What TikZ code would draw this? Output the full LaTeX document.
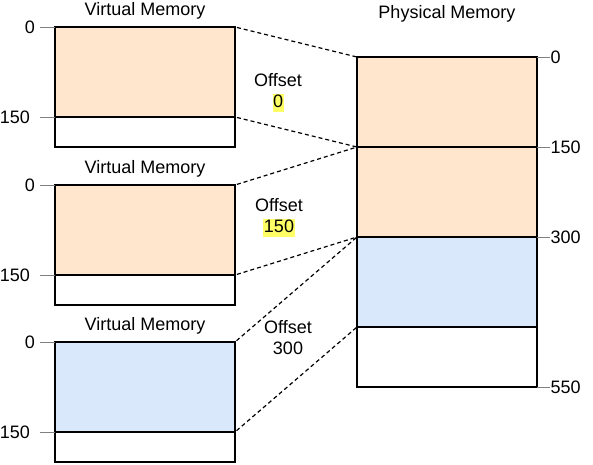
\documentclass[tikz,border=0pt]{standalone}
\usepackage{fontspec}
\setmainfont{Liberation Sans}
\usetikzlibrary{positioning}
\definecolor{peach}{HTML}{FFE6CC}
\definecolor{paleblue}{HTML}{DAE8FC}
\definecolor{marker}{HTML}{FFFF66}
\definecolor{tickgray}{HTML}{808080}

\begin{document}
\begin{tikzpicture}[x=1pt,y=-1pt,font=\fontsize{18}{21}\selectfont,
    seg/.style={draw=black,line width=1.3pt,minimum width=180pt,inner sep=0pt,outer sep=0pt,anchor=north west},
    used/.style={seg,minimum height=90pt},
    rest/.style={seg,minimum height=30pt,fill=white},
    tick/.style={draw=tickgray,line width=0.9pt},
    link/.style={draw=black,line width=1.2pt,dash pattern=on 4pt off 3pt,shorten <=2pt},
    title/.style={inner sep=0pt},
    num/.style={inner sep=0pt},
    offlabel/.style={inner sep=0pt},
    val/.style={inner xsep=0.5pt,inner ysep=0pt,text height=13.5pt,text depth=4.5pt},
    hl/.style={val,fill=marker}]
  \useasboundingbox (0,0) rectangle (593,464);

  % virtual memories
  \foreach \vm/\vtop/\vfill in {vmA/27/peach, vmB/185/peach, vmC/342/paleblue}{
    \node[used,fill=\vfill] (\vm) at (55,\vtop) {};
    \node[rest] (\vm-free) at (\vm.south west) {};
    \node[title,above=7.2pt of \vm] (\vm-title) {Virtual Memory};
    \coordinate (\vm-t0) at ([xshift=-15pt]\vm.north west);
    \coordinate (\vm-t1) at ([xshift=-15pt]\vm.south west);
    \draw[tick] (\vm.north west) -- (\vm-t0);
    \draw[tick] (\vm.south west) -- (\vm-t1);
    \node[num,left=5pt of \vm-t0] (\vm-l0) {0};
    \node[num,left=10pt of \vm-t1] (\vm-l1) {150};
  }

  % physical memory
  \node[used,fill=peach] (pmA) at (357,57) {};
  \node[used,fill=peach] (pmB) at (pmA.south west) {};
  \node[used,fill=paleblue] (pmC) at (pmB.south west) {};
  \node[rest,minimum height=60pt] (pmD) at (pmC.south west) {};
  \node[title,above=35pt of pmA] (pmtitle) {Physical Memory};
  \foreach \corner/\val in {pmA.north east/0, pmB.north east/150, pmC.north east/300, pmD.south east/550}{
    \coordinate (pt\val) at ([xshift=13pt]\corner);
    \draw[tick] (\corner) -- (pt\val);
    \node[num,right=0.5pt of pt\val] (pl\val) {\val};
  }

  % mappings
  \draw[link] (vmA.north east) -- (pmA.north west);
  \draw[link] (vmA.south east) -- (pmA.south west);
  \draw[link] (vmB.north east) -- (pmB.north west);
  \draw[link] (vmB.south east) -- (pmB.south west);
  \draw[link] (vmC.north east) -- (pmC.north west);
  \draw[link] (vmC.south east) -- (pmC.south west);

  % offsets
  \node[offlabel] (offA) at (278,80) {Offset};
  \node[hl,below=6.5pt of offA] (offAval) {0};
  \node[offlabel] (offB) at (279,205) {Offset};
  \node[hl,below=6.5pt of offB] (offBval) {150};
  \node[offlabel] (offC) at (288,327) {Offset};
  \node[val,below=6.5pt of offC] (offCval) {300};
\end{tikzpicture}
\end{document}
